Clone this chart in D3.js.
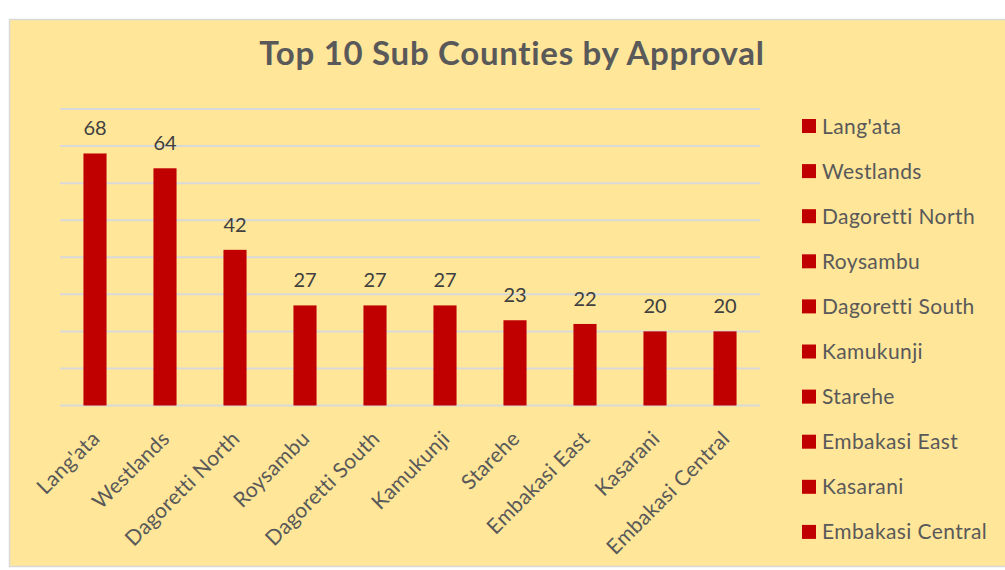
<!DOCTYPE html>
<html>
<head>
<meta charset="utf-8">
<script src="https://cdn.jsdelivr.net/npm/d3@7"></script>
<style>
body { margin: 0; background: #ffffff; }
svg { display: block; font-family: Lato, "Open Sans", sans-serif; }
</style>
</head>
<body>
<script>
//chart values
var counties = ["Lang'ata", "Westlands", "Dagoretti North", "Roysambu", "Dagoretti South",
    "Kamukunji", "Starehe", "Embakasi East", "Kasarani", "Embakasi Central"];
var approvals = [68, 64, 42, 27, 27, 27, 23, 22, 20, 20];
var gridTicks = [0, 10, 20, 30, 40, 50, 60, 70, 80];

var width = 1005, height = 570;

var svg = d3.select("body").append("svg")
    .attr("width", width)
    .attr("height", height);

//chart area frame
svg.append("rect")
    .attr("x", 9.5).attr("y", 19.5)
    .attr("width", width + 10).attr("height", 547)
    .attr("fill", "#FFE699")
    .attr("stroke", "#D9D9D9")
    .attr("stroke-width", 1.5);

svg.append("text")
    .attr("x", 512).attr("y", 65)
    .attr("text-anchor", "middle")
    .attr("fill", "#595959")
    .style("font-size", "33px")
    .style("font-weight", "bold")
    .style("letter-spacing", "0.7px")
    .text("Top 10 Sub Counties by Approval");

var x = d3.scaleBand()
    .domain(counties)
    .range([60, 760])
    .paddingInner(0.67)
    .paddingOuter(0.335);

var y = d3.scaleLinear()
    .domain([0, 80])
    .range([405.5, 109]);

//gridlines
svg.selectAll(".grid")
    .data(gridTicks)
    .enter()
    .append("line")
    .attr("class", "grid")
    .attr("x1", 60).attr("x2", 760)
    .attr("y1", function(d){ return y(d); })
    .attr("y2", function(d){ return y(d); })
    .attr("stroke", "#D9D9D9")
    .attr("stroke-width", 2);

//bars
svg.selectAll(".bar")
    .data(approvals)
    .enter()
    .append("rect")
    .attr("class", "bar")
    .attr("x", function(d, i){ return x(counties[i]); })
    .attr("width", x.bandwidth())
    .attr("y", function(d){ return y(d); })
    .attr("height", function(d){ return y(0) - y(d); })
    .attr("fill", "#C00000");

//data labels
svg.selectAll(".val")
    .data(approvals)
    .enter()
    .append("text")
    .attr("class", "val")
    .attr("x", function(d, i){ return x(counties[i]) + x.bandwidth() / 2; })
    .attr("y", function(d){ return y(d) - 18; })
    .attr("text-anchor", "middle")
    .attr("fill", "#404040")
    .style("font-size", "20px")
    .text(function(d){ return d; });

//rotated category labels
svg.selectAll(".cat")
    .data(counties)
    .enter()
    .append("text")
    .attr("class", "cat")
    .attr("transform", function(d){
        return "translate(" + (x(d) + x.bandwidth() / 2 + 6) + ",440) rotate(-45)";
    })
    .attr("text-anchor", "end")
    .attr("fill", "#595959")
    .style("font-size", "21px")
    .style("letter-spacing", "0.3px")
    .text(function(d){ return d; });

//legend
var legend = svg.selectAll(".legend")
    .data(counties)
    .enter()
    .append("g")
    .attr("class", "legend")
    .attr("transform", function(d, i){ return "translate(802," + (126 + i * 45.1) + ")"; });

legend.append("rect")
    .attr("x", 0).attr("y", -7)
    .attr("width", 14).attr("height", 14)
    .attr("fill", "#C00000");

legend.append("text")
    .attr("x", 20).attr("y", 7.5)
    .attr("fill", "#595959")
    .style("font-size", "21px")
    .style("letter-spacing", "0.4px")
    .text(function(d){ return d; });
</script>
</body>
</html>
